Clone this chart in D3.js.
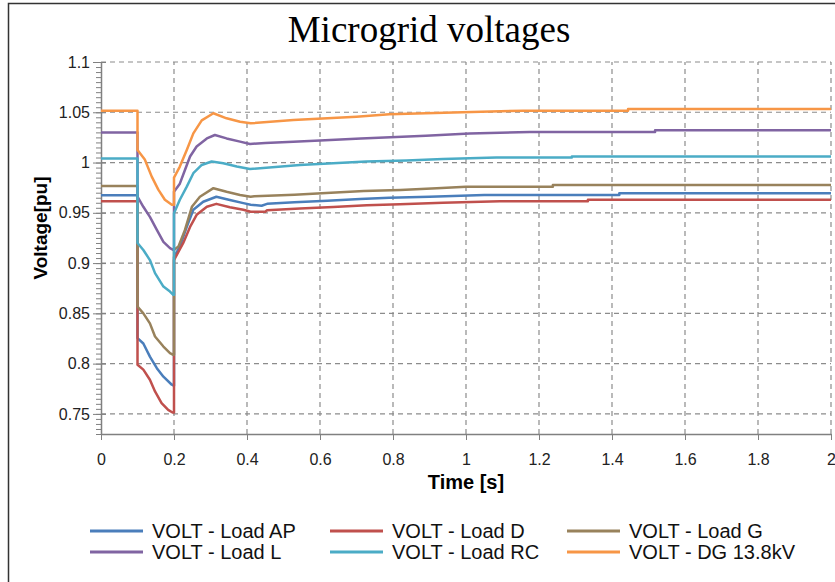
<!DOCTYPE html>
<html>
<head>
<meta charset="utf-8">
<script src="https://cdn.jsdelivr.net/npm/d3@7"></script>
<style>
  html, body { margin: 0; padding: 0; background: #fff; }
  svg { display: block; }
</style>
</head>
<body>
<div id="chart"></div>
<script>
// series names and colours, in legend order
const seriesNames = ['VOLT - Load AP', 'VOLT - Load D', 'VOLT - Load G', 'VOLT - Load L', 'VOLT - Load RC', 'VOLT - DG 13.8kV'];
const seriesColors = ['#4a7ebb', '#c0504d', '#98825c', '#8064a2', '#4bacc6', '#f79646'];

// [time s, voltage pu]
const loadAP = [[0,0.9675],[0.1,0.9675],[0.1,0.8254],[0.116,0.820],[0.134,0.807],[0.153,0.7955],[0.171,0.787],[0.194,0.779],[0.2,0.778],[0.2,0.906],[0.216,0.9164],[0.235,0.936],[0.253,0.953],[0.28,0.961],[0.316,0.966],[0.353,0.9628],[0.39,0.9596],[0.41,0.958],[0.44,0.957],[0.455,0.9589],[0.53,0.9605],[0.62,0.962],[0.71,0.9638],[0.79,0.965],[0.9,0.966],[1.05,0.9678],[1.42,0.9678],[1.42,0.9695],[2,0.9695]];
const loadD = [[0,0.9615],[0.1,0.9615],[0.1,0.7988],[0.116,0.794],[0.134,0.784],[0.148,0.7723],[0.166,0.7607],[0.184,0.754],[0.196,0.7514],[0.2,0.7514],[0.2,0.903],[0.225,0.9198],[0.244,0.936],[0.262,0.948],[0.29,0.956],[0.316,0.9589],[0.353,0.9556],[0.39,0.953],[0.41,0.951],[0.45,0.951],[0.455,0.9525],[0.545,0.9542],[0.636,0.9558],[0.728,0.9575],[0.819,0.9585],[0.937,0.960],[1.093,0.9616],[1.334,0.9616],[1.334,0.963],[2,0.963]];
const loadG = [[0,0.9767],[0.1,0.9767],[0.1,0.8568],[0.116,0.850],[0.134,0.840],[0.148,0.827],[0.171,0.817],[0.189,0.8104],[0.198,0.8088],[0.2,0.8088],[0.2,0.913],[0.212,0.9164],[0.23,0.933],[0.249,0.956],[0.271,0.966],[0.308,0.9745],[0.344,0.971],[0.381,0.9678],[0.41,0.966],[0.42,0.9665],[0.53,0.968],[0.63,0.970],[0.72,0.9718],[0.82,0.9728],[0.92,0.9745],[1.0,0.976],[1.238,0.976],[1.238,0.9777],[2,0.9777]];
const loadL = [[0,1.030],[0.1,1.030],[0.1,0.966],[0.116,0.956],[0.134,0.946],[0.153,0.933],[0.171,0.921],[0.189,0.9148],[0.198,0.913],[0.2,0.913],[0.2,0.971],[0.216,0.979],[0.23,0.9926],[0.244,1.006],[0.262,1.016],[0.29,1.024],[0.312,1.0274],[0.344,1.024],[0.381,1.0208],[0.408,1.0185],[0.45,1.0195],[0.527,1.0208],[0.6,1.022],[0.712,1.024],[0.89,1.0267],[1.01,1.029],[1.175,1.0303],[1.518,1.0303],[1.518,1.032],[2,1.032]];
const loadRC = [[0,1.004],[0.1,1.004],[0.1,0.92],[0.116,0.913],[0.134,0.903],[0.148,0.890],[0.171,0.8766],[0.189,0.8717],[0.198,0.8684],[0.2,0.8684],[0.2,0.9496],[0.216,0.963],[0.235,0.976],[0.253,0.9894],[0.276,0.9976],[0.303,1.001],[0.335,0.9993],[0.372,0.996],[0.408,0.9936],[0.545,0.9976],[0.727,1.001],[0.837,1.002],[0.937,1.0036],[1.083,1.005],[1.29,1.005],[1.29,1.006],[2,1.006]];
const dg138 = [[0,1.0515],[0.1,1.0515],[0.1,1.0125],[0.12,1.003],[0.139,0.986],[0.157,0.973],[0.175,0.963],[0.194,0.958],[0.2,0.958],[0.2,0.985],[0.216,0.996],[0.235,1.0125],[0.253,1.029],[0.276,1.042],[0.308,1.049],[0.344,1.044],[0.381,1.0405],[0.41,1.039],[0.527,1.0423],[0.70,1.0456],[0.79,1.048],[0.99,1.050],[1.157,1.0516],[1.444,1.0516],[1.444,1.0533],[2,1.0533]];

const xTicks = [0, 0.2, 0.4, 0.6, 0.8, 1, 1.2, 1.4, 1.6, 1.8, 2];
const yTicks = [0.75, 0.8, 0.85, 0.9, 0.95, 1, 1.05, 1.1];

const series = [loadAP, loadD, loadG, loadL, loadRC, dg138];

const W = 835, H = 582;
const FONT = "'Liberation Sans', Arial, sans-serif";

const svg = d3.select('#chart').append('svg')
  .attr('width', W)
  .attr('height', H);

svg.append('rect').attr('width', W).attr('height', H).attr('fill', '#fff');

// outer frame
svg.append('rect')
  .attr('x', 8.5).attr('y', 3.5)
  .attr('width', 900).attr('height', 700)
  .attr('fill', 'none')
  .attr('stroke', '#333')
  .attr('stroke-width', 1.5);

const x = d3.scaleLinear().domain([0, 2]).range([101, 831]);
const y = d3.scaleLinear().domain([0.73, 1.1]).range([434, 62]);

// dashed grid
svg.append('g')
  .selectAll('line')
  .data(yTicks)
  .join('line')
  .attr('x1', x(0)).attr('x2', x(2))
  .attr('y1', d => y(d)).attr('y2', d => y(d))
  .attr('stroke', '#8c8c8c')
  .attr('stroke-width', 1.2)
  .attr('stroke-dasharray', '5,4');

svg.append('g')
  .selectAll('line')
  .data(xTicks.slice(1))
  .join('line')
  .attr('x1', d => x(d)).attr('x2', d => x(d))
  .attr('y1', y(0.73)).attr('y2', y(1.1))
  .attr('stroke', '#8c8c8c')
  .attr('stroke-width', 1.2)
  .attr('stroke-dasharray', '5,4');

// minor y ticks
svg.append('g')
  .attr('transform', `translate(${x(0)},0)`)
  .call(d3.axisLeft(y).tickValues(d3.range(146, 221).map(i => i * 0.005)).tickSize(5).tickFormat(''))
  .call(g => g.select('.domain').remove())
  .call(g => g.selectAll('.tick line').attr('stroke', '#808080'));

// major ticks poke inside a little
svg.append('g')
  .attr('transform', `translate(${x(0)},0)`)
  .call(d3.axisRight(y).tickValues(yTicks).tickSize(5).tickFormat(''))
  .call(g => g.select('.domain').remove())
  .call(g => g.selectAll('.tick line').attr('stroke', '#808080'));

svg.append('g')
  .attr('transform', `translate(${x(0)},0)`)
  .call(d3.axisLeft(y).tickValues(yTicks).tickSize(8).tickSizeOuter(0).tickPadding(3).tickFormat(d => String(d)))
  .call(g => g.select('.domain').attr('stroke', '#808080').attr('stroke-width', 1.5))
  .call(g => g.selectAll('.tick line').attr('stroke', '#808080'))
  .call(g => g.selectAll('text').attr('font-family', FONT).attr('font-size', 16).attr('fill', '#222'));

svg.append('g')
  .attr('transform', `translate(0,${y(0.73)})`)
  .call(d3.axisBottom(x).tickValues(xTicks).tickSize(6).tickSizeOuter(0).tickPadding(14).tickFormat(d => String(d)))
  .call(g => g.select('.domain').attr('stroke', '#808080').attr('stroke-width', 1.5))
  .call(g => g.selectAll('.tick line').attr('stroke', '#808080'))
  .call(g => g.selectAll('text').attr('font-family', FONT).attr('font-size', 16).attr('fill', '#222'));

// the lines
const line = d3.line()
  .x(d => x(d[0]))
  .y(d => y(d[1]));

series.forEach((s, i) => {
  svg.append('path')
    .datum(s)
    .attr('fill', 'none')
    .attr('stroke', seriesColors[i])
    .attr('stroke-width', 2.5)
    .attr('stroke-linejoin', 'round')
    .attr('d', line);
});

// titles
svg.append('text')
  .attr('x', 429).attr('y', 42)
  .attr('text-anchor', 'middle')
  .attr('font-family', "'Liberation Serif', 'DejaVu Serif', serif")
  .attr('font-size', 37)
  .text('Microgrid voltages');

svg.append('text')
  .attr('transform', 'translate(47,228) rotate(-90)')
  .attr('text-anchor', 'middle')
  .attr('font-family', FONT)
  .attr('font-weight', 'bold')
  .attr('font-size', 19)
  .text('Voltage[pu]');

svg.append('text')
  .attr('x', 466).attr('y', 489)
  .attr('text-anchor', 'middle')
  .attr('font-family', FONT)
  .attr('font-weight', 'bold')
  .attr('font-size', 20)
  .text('Time [s]');

// legend, 3 columns x 2 rows
const legCols = [90, 330, 567];
const legRows = [531, 552];

const leg = svg.append('g')
  .selectAll('g')
  .data(seriesNames)
  .join('g')
  .attr('transform', (d, i) => `translate(${legCols[i % 3]},${legRows[Math.floor(i / 3)]})`);

leg.append('line')
  .attr('x1', 0).attr('x2', 53)
  .attr('stroke', (d, i) => seriesColors[i])
  .attr('stroke-width', 3);

leg.append('text')
  .attr('x', 62)
  .attr('dy', '0.35em')
  .attr('font-family', FONT)
  .attr('font-size', 20)
  .attr('fill', '#111')
  .text(d => d);
</script>
</body>
</html>
